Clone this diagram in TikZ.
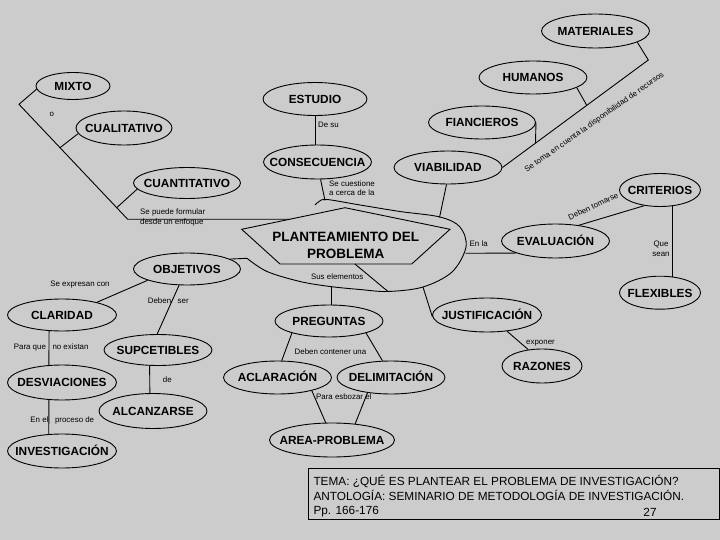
\documentclass[tikz,border=0pt]{standalone}
\usepackage{fontspec}
\setmainfont{Liberation Sans}
\usetikzlibrary{shapes.geometric,calc}
\definecolor{bg}{RGB}{204,204,204}
\newcommand\ellnode[6]{%
  \node[el, minimum width=#4pt, minimum height=#5pt] (#1) at (#2,#3) {};
  \node[bl] (#1-t) at (#1) {#6};}
\begin{document}
\begin{tikzpicture}[x=1pt,y=-1pt,
  el/.style={ellipse, draw, line width=0.9pt, inner sep=0pt},
  bl/.style={font=\fontsize{11.8}{14}\selectfont\bfseries, inner sep=0pt, text height=8.6pt, text depth=0pt},
  sm/.style={font=\fontsize{7.9}{9}\selectfont, inner sep=0pt, text height=5.6pt, text depth=1.6pt},
  tt/.style={font=\fontsize{11.8}{14}\selectfont, inner sep=0pt},
  pl/.style={font=\fontsize{13.5}{16}\selectfont\bfseries, inner sep=0pt, anchor=base},
  ln/.style={line width=0.9pt},
  ]
\fill[bg] (0,0) rectangle (720,540);
\useasboundingbox (0,0) rectangle (720,540);

% ellipses
\ellnode{mat}{595.5}{31}{108}{34}{MATERIALES}
\ellnode{hum}{533}{77.5}{108}{33}{HUMANOS}
\ellnode{fin}{482}{122.5}{107}{33}{FIANCIEROS}
\ellnode{via}{448}{167.5}{108}{33}{VIABILIDAD}
\ellnode{mix}{73}{86}{74}{27}{MIXTO}
\ellnode{est}{315}{99}{104}{33}{ESTUDIO}
\ellnode{cual}{124}{128}{96}{34}{CUALITATIVO}
\ellnode{cons}{317.5}{162}{108}{34}{CONSECUENCIA}
\ellnode{cuan}{187}{183}{107}{31}{CUANTITATIVO}
\ellnode{obj}{187}{269}{107}{32}{OBJETIVOS}
\ellnode{cla}{62}{315}{109}{32}{CLARIDAD}
\ellnode{sup}{158}{350}{108}{31}{SUPCETIBLES}
\ellnode{des}{62}{382.5}{109}{35}{DESVIACIONES}
\ellnode{alc}{153}{411}{108}{35}{ALCANZARSE}
\ellnode{inv}{62}{451}{109}{34}{INVESTIGACIÓN}
\ellnode{pre}{329}{321}{108}{32}{PREGUNTAS}
\ellnode{acl}{277.5}{377.5}{108}{33}{ACLARACIÓN}
\ellnode{del}{391}{377.5}{108}{33}{DELIMITACIÓN}
\ellnode{area}{332}{440}{125}{34}{AREA-PROBLEMA}
\ellnode{jus}{487}{315}{109}{34}{JUSTIFICACIÓN}
\ellnode{raz}{542}{366}{80}{34}{RAZONES}
\ellnode{eva}{555.5}{241}{108}{34}{EVALUACIÓN}
\ellnode{cri}{660}{190}{81}{33}{CRITERIOS}
\ellnode{flex}{660}{292.7}{81}{33}{FLEXIBLES}

% central shape
\coordinate (pl) at (241.7,229.3);
\coordinate (pt) at (345,207.7);
\coordinate (pr) at (450,229.3);
\coordinate (pbr) at (411.7,264);
\coordinate (pbl) at (280,264);
\draw[ln] (pl) -- (pt) -- (pr) -- (pbr) -- (pbl) -- cycle;
\node[pl] (plan1) at (345.8,241.7) {PLANTEAMIENTO DEL};
\node[pl] (plan2) at (345.8,258.3) {PROBLEMA};
\draw[ln] plot[smooth, tension=0.55] coordinates {(247,258.3) (267,271.5) (300,281.5) (330,286.5) (360,289.5) (388,291.5) (423,287) (452,272) (466,247) (460,227) (440,217) (400,211.5) (360,205) (327,199.5) (319,201.5) (315,205)};
\coordinate (pm) at ($(pbl)!0.569!(pbr)$);
\coordinate (pq) at (388,291.5);
\draw[ln] (pm) -- (pq);

% attachment points
\coordinate (o1) at (325,200.5);
\coordinate (o6) at (439.5,217.5);
\coordinate (o2) at (465.5,253.3);
\coordinate (o3) at (423,287);
\coordinate (o4) at (331.5,286.6);
\coordinate (o5) at (247,258.3);
\coordinate (c1) at (648.3,60);
\coordinate (h1) at (586.7,105.2);
\coordinate (f1) at (535.5,142.9);
\coordinate (m1) at (19,104.3);
\coordinate (m2) at (127.7,219.3);
\coordinate (m3) at (289.5,219.3);
\coordinate (q1) at (60,147.7);
\coordinate (q2) at (116.7,207.7);

% connectors
\draw[ln] (mat.-15) -- (c1) -- (via.east);
\draw[ln] (hum.-13) -- (h1);
\draw[ln] (fin.east) -- (f1);
\draw[ln] (mix.185) -- (m1) -- (m2) -- (m3);
\draw[ln] (cual.187) -- (q1);
\draw[ln] (cuan.187) -- (q2);
\draw[ln] (est.south) -- (est.south |- cons.north);
\draw[ln] (cons.-80) -- (o1);
\draw[ln] (via.-95) -- (o6);
\draw[ln] (o2) -- (eva.197);
\draw[ln] (eva.34) -- (cri.225);
\draw[ln] (cri.-53) -- (flex.53);
\draw[ln] (o3) -- (jus.182);
\draw[ln] (jus.-39) -- (raz.130);
\draw[ln] (o4) -- (o4 |- pre.north);
\draw[ln] (obj.13) -- (o5);
\draw[ln] (obj.196) -- (cla.20);
\draw[ln] (obj.244) -- (sup.93);
\draw[ln] (cla.231) -- (des.127);
\draw[ln] (des.233) -- (inv.128);
\draw[ln] (sup.242) -- (alc.100);
\draw[ln] (pre.198) -- (acl.76);
\draw[ln] (pre.-18) -- (del.117);
\draw[ln] (acl.-21) -- (area.110);
\draw[ln] (del.213) -- (area.35);

% small labels
\node[sm] (lo) at (51.7,114.3) {o};
\node[sm, anchor=west] (ldesu) at (318,125.5) {De su};
\node[sm, anchor=west] (lcue1) at (329,184.3) {Se cuestione};
\node[sm, anchor=west] (lcue2) at (329,193.3) {a cerca de la};
\node[sm, anchor=west] (lpf1) at (140,212.3) {Se puede formular};
\node[sm, anchor=west] (lpf2) at (140,222.3) {desde un enfoque};
\node[sm] (lexp) at (80,284.3) {Se expresan con};
\node[sm] (ldeb) at (168.3,301.7) {Deben \ \ ser};
\node[sm] (lpara) at (51.2,347.3) {Para que \ \ no existan};
\node[sm] (lde) at (167.3,380.7) {de};
\node[sm] (lproc) at (62.3,420.7) {En el \ \ proceso de};
\node[sm] (lcont) at (330.5,352.3) {Deben contener una};
\node[sm] (lesb) at (343.8,397.7) {Para esbozar el};
\node[sm] (lsus) at (337.2,277.7) {Sus elementos};
\node[sm] (lenla) at (478.7,244) {En la};
\node[sm, rotate=25] (ltom) at (593.5,207) {Deben tomarse};
\node[sm] (lque) at (661,244) {Que};
\node[sm] (lsean) at (661,254.3) {sean};
\node[sm] (lexpo) at (540.5,342.3) {exponer};
\node[sm, rotate=35.1] (lrec) at (594.5,122.5) {Se toma en cuenta la disponibilidad de recursos};

% title box
\node[draw, line width=0.9pt, minimum width=410.2pt, minimum height=50.7pt, inner sep=0pt, anchor=north west] (box) at (308.3,468.3) {};
\node[tt, anchor=base west] (t1) at (313.3,485.7) {TEMA: ¿QUÉ ES PLANTEAR EL PROBLEMA DE INVESTIGACIÓN?};
\node[tt, anchor=base west] (t2) at (313.3,500.3) {ANTOLOGÍA: SEMINARIO DE METODOLOGÍA DE INVESTIGACIÓN.};
\node[tt, anchor=base west] (t3) at (313.3,514.3) {Pp. 166-176};
\node[tt, anchor=base] (t4) at (650,516.7) {27};
\end{tikzpicture}
\end{document}
